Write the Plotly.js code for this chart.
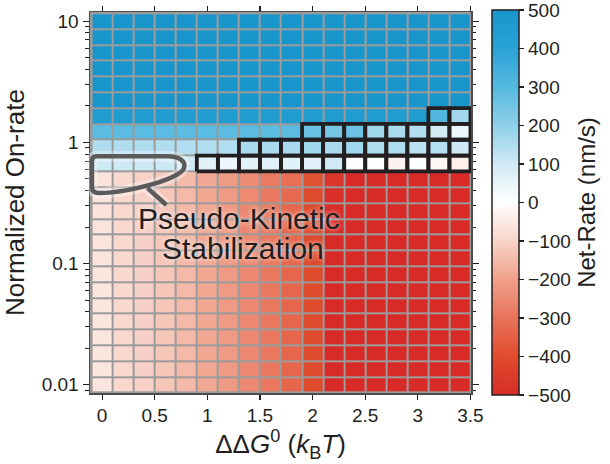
<!DOCTYPE html>
<html><head><meta charset="utf-8">
<script src="https://cdn.plot.ly/plotly-3.0.1.min.js"></script>
<style>html,body{margin:0;padding:0;background:#fff}</style>
</head><body><div id="chart" style="width:610px;height:464px"></div>
<script>
// ---- data ----
const xVals = [0, 0.2, 0.4, 0.6, 0.8, 1.0, 1.2, 1.4, 1.6, 1.8, 2.0, 2.2, 2.4, 2.6, 2.8, 3.0, 3.2, 3.4];
const yVals = [0.01, 0.013503, 0.018233, 0.02462, 0.033245, 0.04489, 0.060616, 0.081849,
  0.110521, 0.149236, 0.201513, 0.272104, 0.367423, 0.496131, 0.669925, 0.904596,
  1.22147, 1.64935, 2.22711, 3.00727, 4.06071, 5.48318, 7.40394, 10];
// Net-rate (nm/s), rows follow yVals (bottom to top), columns follow xVals
const netRate = [
  [-60,-90,-105,-127,-152,-185,-213,-253,-289,-333,-410,-500,-500,-500,-500,-500,-500,-500],
  [-60,-90,-105,-127,-152,-185,-213,-253,-289,-333,-410,-500,-500,-500,-500,-500,-500,-500],
  [-60,-90,-105,-127,-152,-185,-213,-253,-289,-333,-410,-500,-500,-500,-500,-500,-500,-500],
  [-60,-90,-105,-127,-152,-185,-213,-253,-289,-333,-410,-500,-500,-500,-500,-500,-500,-500],
  [-60,-90,-105,-127,-152,-185,-213,-253,-289,-333,-410,-500,-500,-500,-500,-500,-500,-500],
  [-60,-90,-105,-127,-152,-185,-213,-253,-289,-333,-410,-500,-500,-500,-500,-500,-500,-500],
  [-60,-90,-105,-127,-152,-185,-213,-253,-289,-333,-410,-500,-500,-500,-500,-500,-500,-500],
  [-60,-90,-105,-127,-152,-185,-213,-253,-289,-333,-410,-500,-500,-500,-500,-500,-500,-500],
  [-62,-90,-105,-127,-152,-185,-213,-253,-289,-333,-410,-500,-500,-500,-500,-500,-500,-500],
  [-62,-90,-105,-127,-152,-185,-213,-253,-289,-333,-410,-500,-500,-500,-500,-500,-500,-500],
  [-63,-90,-105,-127,-152,-185,-213,-253,-289,-333,-410,-498,-500,-500,-500,-500,-500,-500],
  [-64,-90,-105,-127,-152,-185,-213,-253,-289,-330,-408,-495,-500,-500,-500,-500,-500,-500],
  [-65,-90,-105,-127,-152,-185,-213,-250,-287,-322,-405,-488,-500,-500,-500,-500,-500,-500],
  [-66,-88,-103,-125,-150,-182,-210,-245,-282,-310,-385,-468,-500,-500,-500,-500,-500,-500],
  [105,105,105,105,100,60,35,60,65,60,65,95,0,2,-30,5,-15,-35],
  [148,148,148,148,148,148,148,160,160,160,175,160,170,150,150,130,140,105],
  [290,290,290,290,290,290,290,290,290,290,265,245,262,170,160,145,90,40],
  [450,450,450,450,450,450,450,450,450,450,450,450,450,450,450,450,310,170],
  [500,500,500,500,500,500,500,500,500,500,500,500,500,500,500,500,500,500],
  [500,500,500,500,500,500,500,500,500,500,500,500,500,500,500,500,500,500],
  [500,500,500,500,500,500,500,500,500,500,500,500,500,500,500,500,500,500],
  [500,500,500,500,500,500,500,500,500,500,500,500,500,500,500,500,500,500],
  [500,500,500,500,500,500,500,500,500,500,500,500,500,500,500,500,500,500],
  [500,500,500,500,500,500,500,500,500,500,500,500,500,500,500,500,500,500]
];
// outlined (black-boxed) cells: row y value and first boxed column x (boxes run to last column)
const boxRowY = [0.669925, 0.904596, 1.22147, 1.64935];
const boxStartX = [1.0, 1.4, 2.0, 3.2];
const xTickVals = [0, 0.5, 1, 1.5, 2, 2.5, 3, 3.5];
const xTickText = ['0', '0.5', '1', '1.5', '2', '2.5', '3', '3.5'];
const yTickVals = [0.01, 0.1, 1, 10];
const yTickText = ['0.01', '0.1', '1', '10'];
const cbTickVals = [-500, -400, -300, -200, -100, 0, 100, 200, 300, 400, 500];
const cbTickText = ['\u2212500', '\u2212400', '\u2212300', '\u2212200', '\u2212100', '0', '100', '200', '300', '400', '500'];

// ---- helpers ----
function edgesLin(v) {
  const e = [v[0] - (v[1] - v[0]) / 2];
  for (let i = 0; i < v.length - 1; i++) e.push((v[i] + v[i + 1]) / 2);
  e.push(v[v.length - 1] + (v[v.length - 1] - v[v.length - 2]) / 2);
  return e;
}
function edgesLog(v) {
  const e = [v[0] / Math.sqrt(v[1] / v[0])];
  for (let i = 0; i < v.length - 1; i++) e.push(Math.sqrt(v[i] * v[i + 1]));
  const n = v.length;
  e.push(v[n - 1] * Math.sqrt(v[n - 1] / v[n - 2]));
  return e;
}
function nearestIdx(arr, val) {
  let b = 0;
  for (let i = 1; i < arr.length; i++) if (Math.abs(arr[i] - val) < Math.abs(arr[b] - val)) b = i;
  return b;
}
const xE = edgesLin(xVals), yE = edgesLog(yVals);

// boxes
const bx = [], by = [];
boxRowY.forEach((yv, r) => {
  const iy = nearestIdx(yVals, yv);
  const c0 = nearestIdx(xVals, boxStartX[r]);
  for (let c = c0; c < xVals.length; c++) {
    const x0 = xE[c], x1 = xE[c + 1], y0 = yE[iy], y1 = yE[iy + 1];
    bx.push(x0, x1, x1, x0, x0, null);
    by.push(y0, y0, y1, y1, y0, null);
  }
});

const colorscale = [
  [0, '#d82b27'], [0.1, '#e04c2c'], [0.2, '#e8735a'], [0.3, '#f0a08a'], [0.4, '#f8d4c9'],
  [0.5, '#ffffff'], [0.6, '#cfeaf5'], [0.7, '#8fd0ea'], [0.8, '#55b9df'], [0.9, '#2aa2d6'], [1, '#1896cb']
];

const INK = '#231f20';
const FONT = 'Liberation Sans, Arial, Helvetica, sans-serif';

// layout geometry for the hand-drawn loop annotation (pixel -> paper)
const ML = 90, MT = 10, PW = 384, PH = 383;
function P(px, py) { return ((px - ML) / PW).toFixed(4) + ',' + ((MT + PH - py) / PH).toFixed(4); }
const loopPath = 'M' + P(92, 160) + ' Q' + P(92, 155) + ' ' + P(97, 155) + ' L' + P(168, 155) +
  ' C' + P(180, 155) + ' ' + P(186, 160) + ' ' + P(185, 166) +
  ' C' + P(184, 172) + ' ' + P(172, 177) + ' ' + P(160, 181) +
  ' C' + P(140, 187) + ' ' + P(116, 192) + ' ' + P(99, 192) +
  ' Q' + P(92, 192) + ' ' + P(92, 186) + ' Z';
const tailPath = 'M' + P(148, 187) + ' L' + P(167, 204);

const traces = [
  {
    type: 'heatmap', x: xE, y: yE, z: netRate, zmin: -500, zmax: 500,
    colorscale: colorscale, xgap: 2, ygap: 2, hoverinfo: 'skip',
    colorbar: {
      x: 1.0547, xanchor: 'left', y: 0.5, yanchor: 'middle', len: 1.01, lenmode: 'fraction',
      thickness: 27, thicknessmode: 'pixels', xpad: 0, ypad: 0,
      outlinewidth: 1.5, outlinecolor: INK,
      ticks: 'outside', ticklen: 5, tickwidth: 1.2, tickcolor: INK,
      tickmode: 'array', tickvals: cbTickVals, ticktext: cbTickText,
      ticklabeloverflow: 'allow',
      tickfont: { family: FONT, size: 19, color: INK },
      title: { text: 'Net-Rate (nm/s)', side: 'right', font: { family: FONT, size: 24, color: INK } }
    }
  },
  {
    type: 'scatter', mode: 'lines', x: bx, y: by, hoverinfo: 'skip', showlegend: false,
    line: { color: INK, width: 3.8 }
  }
];

const layout = {
  width: 610, height: 464,
  margin: { l: ML, r: 610 - ML - PW, t: MT, b: 464 - MT - PH },
  paper_bgcolor: '#ffffff', plot_bgcolor: '#9b9b9b',
  font: { family: FONT, color: INK },
  showlegend: false,
  xaxis: {
    range: [-0.115, 3.505], tickmode: 'array', tickvals: xTickVals, ticktext: xTickText,
    ticks: 'outside', ticklen: 5, tickwidth: 1.2, tickcolor: INK,
    showline: true, linecolor: '#4d4d4d', linewidth: 1.5, mirror: 'ticks',
    showgrid: false, zeroline: false,
    tickfont: { family: FONT, size: 19, color: INK },
    title: { text: 'ΔΔ<i>G</i><sup>0</sup> (<i>k</i><sub>B</sub><i>T</i>)', font: { family: FONT, size: 26, color: INK }, standoff: 6 }
  },
  yaxis: {
    type: 'log', range: [-2.068, 1.076], tickmode: 'array', tickvals: yTickVals, ticktext: yTickText,
    ticks: 'outside', ticklen: 6, tickwidth: 1.2, tickcolor: INK,
    minor: { ticks: 'outside', ticklen: 3.5, tickwidth: 1, tickcolor: INK, dtick: 'D1', showgrid: false },
    showline: true, linecolor: '#4d4d4d', linewidth: 1.5, mirror: 'allticks',
    showgrid: false, zeroline: false,
    tickfont: { family: FONT, size: 19, color: INK },
    title: { text: 'Normalized On-rate', font: { family: FONT, size: 26, color: INK }, standoff: 12 }
  },
  shapes: [
    { type: 'path', xref: 'paper', yref: 'paper', path: loopPath, line: { color: 'rgba(255,255,255,0.35)', width: 11 } },
    { type: 'path', xref: 'paper', yref: 'paper', path: tailPath, line: { color: 'rgba(255,255,255,0.35)', width: 11 } },
    { type: 'path', xref: 'paper', yref: 'paper', path: loopPath, line: { color: '#5b5b5b', width: 4.5 } },
    { type: 'path', xref: 'paper', yref: 'paper', path: tailPath, line: { color: '#5b5b5b', width: 4.5 } }
  ],
  annotations: [
    { xref: 'paper', yref: 'paper', x: (240 - ML) / PW, y: (MT + PH - 218) / PH, text: 'Pseudo-Kinetic',
      showarrow: false, xanchor: 'center', yanchor: 'middle',
      font: { family: FONT, size: 30, color: INK, shadow: '0px 0px 5px rgba(255,255,255,0.9)' } },
    { xref: 'paper', yref: 'paper', x: (244 - ML) / PW, y: (MT + PH - 248) / PH, text: 'Stabilization',
      showarrow: false, xanchor: 'center', yanchor: 'middle',
      font: { family: FONT, size: 30, color: INK, shadow: '0px 0px 5px rgba(255,255,255,0.9)' } }
  ]
};

Plotly.newPlot('chart', traces, layout, { staticPlot: true, displayModeBar: false });
</script>
</body></html>
